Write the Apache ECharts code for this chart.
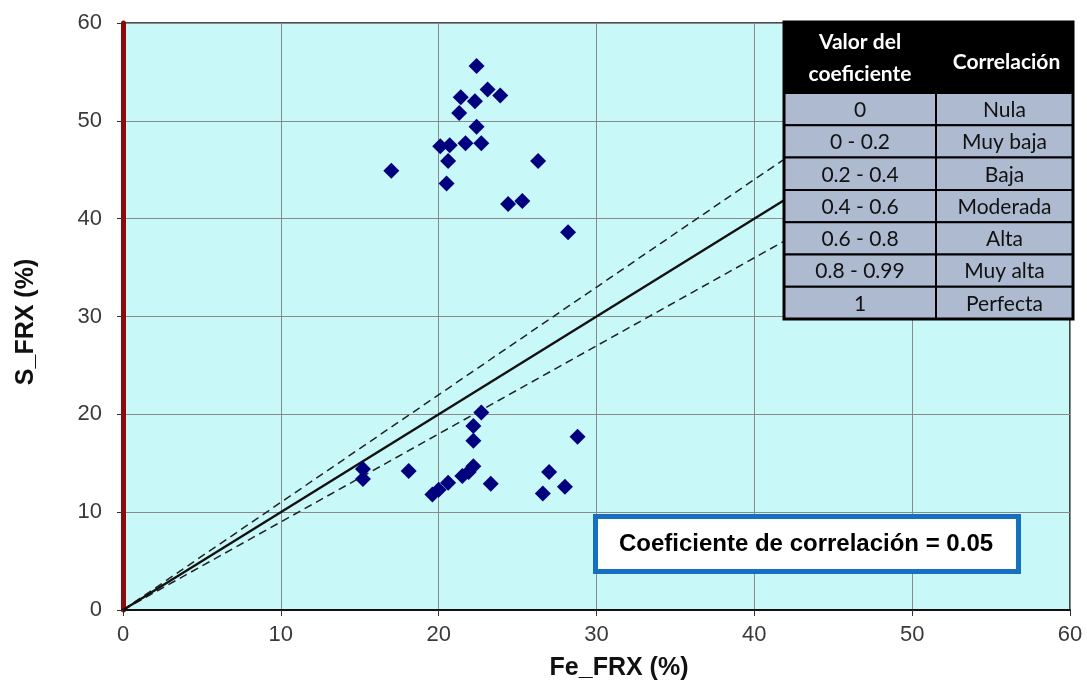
<!DOCTYPE html>
<html>
<head>
<meta charset="utf-8">
<script src="https://cdn.jsdelivr.net/npm/echarts@6/dist/echarts.min.js"></script>
<style>
  html, body { margin: 0; padding: 0; background: #fff; }
  #chart { width: 1087px; height: 682px; }
</style>
</head>
<body>
<div id="chart"></div>
<script>
// Fe_FRX (%) vs S_FRX (%)
const feValues = [
  22.4, 23.1, 23.9, 21.4, 22.3, 21.3, 22.4, 20.1, 20.7, 21.7, 22.7, 20.6, 17.0, 20.5,
  26.3, 24.4, 25.3, 28.2,
  22.7, 22.2, 22.2, 28.8, 15.2, 15.2, 18.1, 19.6, 20.0, 20.6, 21.5, 21.9, 22.2, 23.3,
  27.0, 26.6, 28.0
]
const sValues = [
  55.6, 53.2, 52.6, 52.4, 52.0, 50.8, 49.4, 47.4, 47.5, 47.7, 47.7, 45.9, 44.9, 43.6,
  45.9, 41.5, 41.8, 38.6,
  20.2, 18.8, 17.3, 17.7, 14.4, 13.4, 14.2, 11.8, 12.3, 13.0, 13.7, 14.1, 14.7, 12.9,
  14.1, 11.9, 12.6
]

// reference lines y = x and +/- 10 %
const refLineMain = [[0, 0], [60, 60]]
const refLineUpper = [[0, 0], [60, 66]]
const refLowerLine = [[0, 0], [60, 54]]

const tableValues = ['0', '0 - 0.2', '0.2 - 0.4', '0.4 - 0.6', '0.6 - 0.8', '0.8 - 0.99', '1']
const tableLabels = ['Nula', 'Muy baja', 'Baja', 'Moderada', 'Alta', 'Muy alta', 'Perfecta']

const coefText = 'Coeficiente de correlación = 0.05'

const points = feValues.map((x, i) => [x, sValues[i]])

const chart = echarts.init(document.getElementById('chart'))

const tickFont = { color: '#3a3a3a', fontSize: 22, fontFamily: 'Liberation Sans' }

// table overlay, top right of the plot
const tLeft = 784
const tRight = 1073
const tSplit = 936
const tTop = 22
const headH = 71
const rowH = 32.3
const tableFont = 'Lato'

const tableEls = []
tableEls.push({
  type: 'rect', z: 100,
  shape: { x: tLeft, y: tTop, width: tRight - tLeft, height: headH },
  style: { fill: '#000' }
})
tableEls.push({
  type: 'text', z: 101,
  style: {
    text: 'Valor del\ncoeficiente', x: (tLeft + tSplit) / 2, y: tTop + headH / 2 + 1,
    align: 'center', verticalAlign: 'middle', fill: '#fff',
    font: `bold 21px ${tableFont}`, lineHeight: 32
  }
})
tableEls.push({
  type: 'text', z: 101,
  style: {
    text: 'Correlación', x: (tSplit + tRight) / 2 + 2, y: tTop + headH / 2 + 5,
    align: 'center', verticalAlign: 'middle', fill: '#fff',
    font: `bold 21px ${tableFont}`
  }
})
tableValues.forEach((v, i) => {
  const y = tTop + headH + i * rowH
  tableEls.push({
    type: 'rect', z: 100,
    shape: { x: tLeft, y: y, width: tSplit - tLeft, height: rowH },
    style: { fill: '#aebad0', stroke: '#000', lineWidth: 2 }
  })
  tableEls.push({
    type: 'rect', z: 100,
    shape: { x: tSplit, y: y, width: tRight - tSplit, height: rowH },
    style: { fill: '#aebad0', stroke: '#000', lineWidth: 2 }
  })
  tableEls.push({
    type: 'text', z: 101,
    style: {
      text: v, x: (tLeft + tSplit) / 2, y: y + rowH / 2 + 1,
      align: 'center', verticalAlign: 'middle', fill: '#111', font: `21px ${tableFont}`
    }
  })
  tableEls.push({
    type: 'text', z: 101,
    style: {
      text: tableLabels[i], x: (tSplit + tRight) / 2, y: y + rowH / 2 + 1,
      align: 'center', verticalAlign: 'middle', fill: '#111', font: `21px ${tableFont}`
    }
  })
})
tableEls.push({
  type: 'rect', z: 102,
  shape: { x: tLeft, y: tTop, width: tRight - tLeft, height: headH + rowH * tableValues.length },
  style: { fill: 'none', stroke: '#000', lineWidth: 3 }
})

chart.setOption({
  animation: false,
  backgroundColor: '#fff',
  grid: {
    left: 123, right: 17, top: 23, bottom: 72,
    show: true, backgroundColor: '#c9f8f9', borderColor: '#111', borderWidth: 1.5
  },
  xAxis: {
    type: 'value', min: 0, max: 60, interval: 10,
    axisLine: { show: true, onZero: false, lineStyle: { color: '#111', width: 2 } },
    axisTick: { show: true, length: 6, lineStyle: { color: '#333' } },
    axisLabel: { ...tickFont, margin: 14 },
    splitLine: { show: true, lineStyle: { color: '#8a8a8a', width: 1 } }
  },
  yAxis: {
    type: 'value', min: 0, max: 60, interval: 10,
    axisLine: { show: true, onZero: false, lineStyle: { color: '#8b0a0a', width: 5 } },
    axisTick: { show: true, length: 6, lineStyle: { color: '#333' } },
    axisLabel: { ...tickFont, margin: 21 },
    splitLine: { show: true, lineStyle: { color: '#8a8a8a', width: 1 } }
  },
  series: [
    {
      type: 'line', data: refLineUpper, symbol: 'none', clip: true, z: 3,
      lineStyle: { color: '#222', width: 1.5, type: [8, 5] }
    },
    {
      type: 'line', data: refLowerLine, symbol: 'none', clip: true, z: 3,
      lineStyle: { color: '#222', width: 1.5, type: [8, 5] }
    },
    {
      type: 'line', data: refLineMain, symbol: 'none', clip: true, z: 3,
      lineStyle: { color: '#111', width: 2.4 }
    },
    {
      type: 'scatter', data: points, symbol: 'diamond', symbolSize: 16, z: 5,
      itemStyle: { color: '#00007f', opacity: 1 }
    }
  ],
  graphic: [
    ...tableEls,
    {
      type: 'rect', z: 100,
      shape: { x: 595.5, y: 516.5, width: 423, height: 55 },
      style: { fill: '#fff', stroke: '#1670c2', lineWidth: 5 }
    },
    {
      type: 'text', z: 101,
      style: {
        text: coefText, x: 806, y: 544, align: 'center', verticalAlign: 'middle',
        fill: '#000', font: 'bold 24px Liberation Sans'
      }
    },
    {
      type: 'text', z: 101,
      style: {
        text: 'Fe_FRX (%)', x: 619, y: 668, align: 'center', verticalAlign: 'middle',
        fill: '#111', font: 'bold 25px Liberation Sans'
      }
    },
    {
      type: 'text', z: 101, x: 26, y: 322, rotation: Math.PI / 2,
      style: {
        text: 'S_FRX (%)', x: 0, y: 0, align: 'center', verticalAlign: 'middle',
        fill: '#111', font: 'bold 25px Liberation Sans'
      }
    }
  ]
})
</script>
</body>
</html>
